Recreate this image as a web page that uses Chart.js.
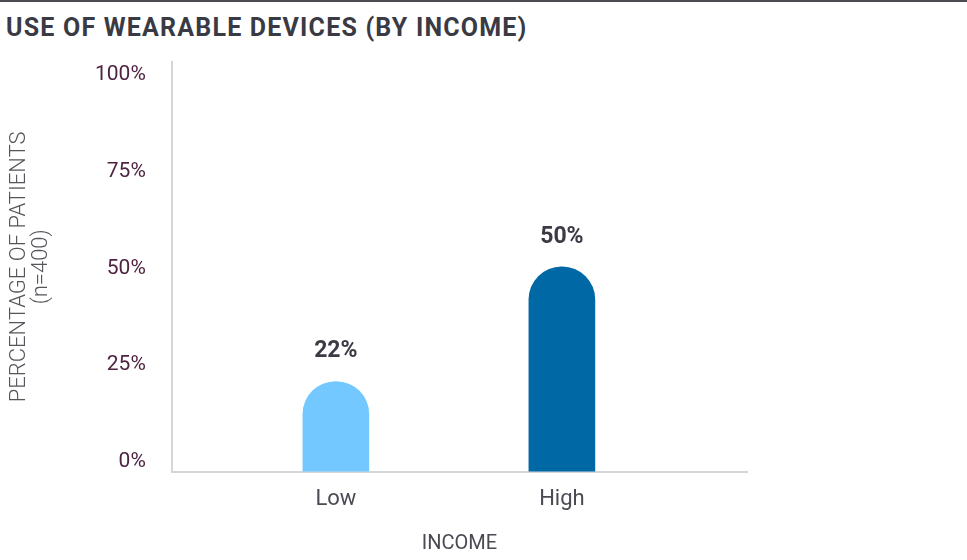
<!DOCTYPE html>
<html>
<head>
<meta charset="utf-8">
<script src="https://cdn.jsdelivr.net/npm/chart.js@4"></script>
<style>
  body { margin: 0; background: #fff; }
  #topline { position: absolute; left: 0; top: 0; width: 967px; height: 2px; background: #4b4b50; }
  h1 { position: absolute; left: 6px; top: 13px; margin: 0; font: bold 25px Roboto, sans-serif; color: #393a44; letter-spacing: 1.2px; }
  #wrap { position: absolute; left: 0; top: 0; width: 967px; height: 560px; }
</style>
</head>
<body>
<div id="topline"></div>
<h1>USE OF WEARABLE DEVICES (BY INCOME)</h1>
<div id="wrap"><canvas id="grafico"></canvas></div>
<script>
// DADOS
const categorias = ["Low", "High"];
const valores = [22, 50];
const cores = ["#73c9ff", "#0068a5"];
const yTicks = [0, 25, 50, 75, 100];

// rotulos em cima das barras
const rotulosBarras = {
  id: "rotulosBarras",
  afterDatasetsDraw(chart) {
    const ctx = chart.ctx;
    const meta = chart.getDatasetMeta(0);
    ctx.save();
    ctx.font = "bold 23px Roboto, sans-serif";
    ctx.fillStyle = "#3a3b44";
    ctx.textAlign = "center";
    ctx.textBaseline = "middle";
    meta.data.forEach(function (bar, i) {
      ctx.fillText(valores[i] + "%", bar.x, bar.y - 30);
    });
    ctx.restore();
  },
};

new Chart(document.getElementById("grafico"), {
  type: "bar",
  data: {
    datasets: [
      {
        data: valores.map(function (v, i) { return { x: i, y: v }; }),
        backgroundColor: cores,
        barThickness: 66,
        borderRadius: { topLeft: 33, topRight: 33 },
        borderSkipped: "bottom",
      },
    ],
  },
  options: {
    responsive: true,
    maintainAspectRatio: false,
    animation: false,
    layout: { padding: { top: 62, right: 220, bottom: 0, left: 4 } },
    plugins: { legend: { display: false }, tooltip: { enabled: false } },
    scales: {
      x: {
        type: "linear",
        offset: false,
        min: -0.726,
        max: 1.819,
        grid: { display: false },
        border: { color: "#d3d7db", width: 2 },
        afterBuildTicks(axis) {
          axis.ticks = categorias.map(function (c, i) { return { value: i }; });
        },
        ticks: {
          color: "#4a4a52",
          font: { family: "Roboto", size: 22 },
          padding: 7,
          callback: function (v) { return categorias[v]; },
        },
        title: {
          display: true,
          text: "INCOME",
          color: "#4a4a52",
          font: { family: "Roboto", size: 20 },
          padding: { top: 12 },
        },
      },
      y: {
        position: "left",
        weight: 0,
        min: 0,
        max: 100,
        grid: { display: false },
        border: { color: "#d3d7db", width: 2 },
        ticks: { display: false },
      },
      y2: {
        position: "left",
        weight: 1,
        min: -2.584,
        max: 103.36,
        grid: { display: false },
        border: { display: false },
        afterBuildTicks(axis) {
          axis.ticks = yTicks.map(function (v) { return { value: v }; });
        },
        ticks: {
          color: "#4f2342",
          font: { family: "Roboto", size: 21 },
          padding: 10,
          callback: function (v) { return v + "%"; },
        },
        title: {
          display: true,
          text: ["PERCENTAGE OF PATIENTS", "(n=400)"],
          color: "#55565c",
          font: { family: "Roboto", size: 22, weight: "300", lineHeight: 1.0 },
          padding: { bottom: 33 },
        },
      },
    },
  },
  plugins: [rotulosBarras],
});
</script>
</body>
</html>
